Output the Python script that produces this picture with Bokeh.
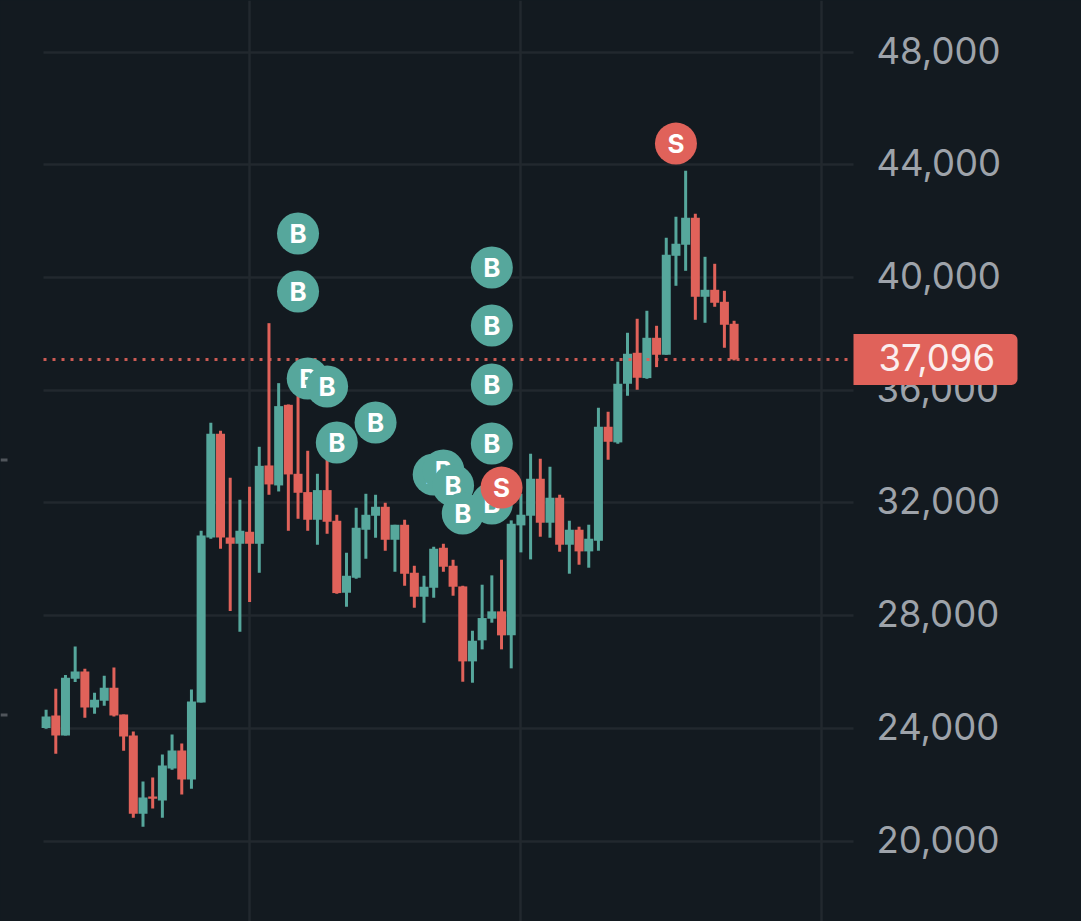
from bokeh.plotting import figure
from bokeh.models import FixedTicker, NumeralTickFormatter, LinearAxis, Label, Range1d, Grid, BoxAnnotation
from bokeh.core.properties import value
from bokeh.embed import file_html
from bokeh.resources import INLINE

opens = [24009,24459,23749,25760,26020,24743,24979,25441,24494,23749,20969,21584,21442,22578,23216,22187,24920,30776,34455,30776,30551,30977,30551,
         33332,32622,35485,33036,32386,31404,32457,31368,28813,29345,31049,31546,31865,30694,31226,29523,28671,28990,30410,29771,29038,26376,27123,27892,
         28152,27300,31204,31547,32860,31299,32186,30518,31050,30281,30660,34706,34150,36232,37332,36433,37864,37261,40775,41165,42123,39320,39568,39142,38361]
closes = [24423,23749,25795,26020,24743,25015,25441,24459,23713,20969,21548,21501,22684,23216,22187,24956,30847,34455,30776,30551,31012,30551,33319,
          32658,35438,33013,32362,31404,32457,31333,28801,29416,31120,31581,31865,30694,31226,29487,28671,29026,30375,29736,29026,26376,27109,27915,28152,
          27300,31263,31583,32860,31299,32186,30518,31050,30281,30731,34706,34173,36232,37297,36445,37864,37261,40810,41200,42123,39320,39568,39107,38326,37096]
highs = [24660,25405,25890,26907,26115,25263,25866,26162,24494,23891,22116,22258,23075,23784,23465,25381,31012,34845,34561,32893,32113,32574,33994,
         38383,36254,35497,35875,33853,33036,33628,31581,30233,31830,32326,32291,32007,31226,31404,29771,29416,30446,30552,29984,29061,27464,29098,29430,
         29986,31382,32328,33748,33570,33286,32293,31370,31157,31228,35380,35238,37013,38042,38539,38823,38290,41413,42159,43791,42265,40739,40491,39532,38468]
lows = [23985,23098,23749,25642,24376,24518,24802,24423,23205,20827,20507,21158,20827,22530,21655,21856,24920,30729,30374,28161,27428,28481,29522,
        32291,32409,31013,31439,31013,30517,30907,28777,28316,29310,30020,30765,30304,29558,29061,28281,27748,28636,29558,28707,25654,25619,26803,27750,
        26803,26129,30246,29997,30802,30766,30270,29489,29808,29702,30305,33535,34102,35806,36019,36409,36823,37261,39710,40242,38503,38397,38965,37510,37060]

marker_index = [26,26,27,29,30,34,46,46,46,46,46,40,41,42,43,47,65]
marker_price = [41566,39507,36419,36135,34147,34857,40359,38300,36206,34111,31981,33011,33153,32620,31626,32549,44761]
marker_side = ["B","B","B","B","B","B","B","B","B","B","B","B","B","B","B","S","S"]

price_ticks = [20000,24000,28000,32000,36000,40000,44000,48000]
time_ticks = [21,49,80]
last_price = 37096
edge_tick_prices = [33525,24473]

BG = "#131a20"
UP = "#56a79c"
DOWN = "#e0625a"
GRID = "#22282e"
LABEL = "#9ea3aa"

W, H = 1081, 921
PX_PER_BAR = 9.69
X0 = 45.6
FRAME_R = 853
PLOT_LEFT = 43
to_idx = lambda px: (px - X0) / PX_PER_BAR
PRICE_PER_PX = 35.5
Y_TOP = 20000 + 840.5 * PRICE_PER_PX
Y_BOT = 20000 - (H - 840.5) * PRICE_PER_PX

p = figure(width=W, height=H, output_backend="svg", toolbar_location=None,
           x_range=Range1d(to_idx(0), to_idx(W)), y_range=Range1d(Y_BOT, Y_TOP),
           x_axis_location=None, y_axis_location=None,
           min_border_left=0, min_border_right=0, min_border_top=0, min_border_bottom=0,
           background_fill_color=BG, border_fill_color=BG, outline_line_color=None)
p.styles = {"position": "fixed", "left": "0", "top": "0", "background-color": BG}
p.center = []

p.extra_y_ranges = {"labels": Range1d(Y_BOT - 2 * PRICE_PER_PX, Y_TOP - 2 * PRICE_PER_PX)}
ax = LinearAxis(y_range_name="labels", ticker=FixedTicker(ticks=price_ticks),
                formatter=NumeralTickFormatter(format="0,0"), fixed_location=to_idx(FRAME_R),
                axis_line_color=None, major_tick_line_color=None, minor_tick_line_color=None,
                major_label_text_color=LABEL, major_label_text_font="Inter",
                major_label_text_font_size="36.5px", major_label_standoff=23)
ax.major_tick_out = 0
ax.major_tick_in = 0
p.add_layout(ax, "right")

yg = Grid(dimension=1, ticker=FixedTicker(ticks=price_ticks), grid_line_color=GRID, grid_line_width=2.5,
          cross_bounds=(to_idx(PLOT_LEFT), to_idx(FRAME_R)))
xg = Grid(dimension=0, ticker=FixedTicker(ticks=time_ticks), grid_line_color=GRID, grid_line_width=2.5)
p.add_layout(yg)
p.add_layout(xg)

idx = list(range(len(opens)))
colors = [UP if c >= o else DOWN for o, c in zip(opens, closes)]
p.segment(idx, highs, idx, lows, line_color=colors, line_width=3)
p.vbar(idx, width=0.93, bottom=[min(o, c) for o, c in zip(opens, closes)],
       top=[max(o, c) for o, c in zip(opens, closes)], fill_color=colors, line_color=None)

p.line([to_idx(PLOT_LEFT), to_idx(FRAME_R)], [last_price, last_price], line_color=DOWN, line_width=3,
       line_dash="3 6", line_alpha=0.9)

for t in edge_tick_prices:
    p.line([to_idx(0), to_idx(7)], [t, t], line_color="#50555b", line_width=3)

for i, pr, s in zip(marker_index, marker_price, marker_side):
    col = UP if s == "B" else DOWN
    p.scatter([i], [pr], size=42, marker="circle", fill_color=col, line_color=None)
    p.text([i], [pr], text=[s], text_color="#ffffff", text_font=value("Inter"),
           text_font_style="bold", text_font_size="26px", text_align="center", text_baseline="middle")

box = BoxAnnotation(left=FRAME_R, right=1017, left_units="screen", right_units="screen",
                    top=last_price + 25.5 * PRICE_PER_PX, bottom=last_price - 25.5 * PRICE_PER_PX,
                    fill_color=DOWN, fill_alpha=1.0, line_color=None, level="annotation",
                    border_radius=dict(top_left=0, top_right=6, bottom_right=6, bottom_left=0))
p.add_layout(box)

tag = Label(x=878, y=last_price, x_units="screen", y_units="data", y_offset=2, text=f"{last_price:,}",
            text_color="#fbeeee", text_font="Inter", text_font_size="36.5px", text_baseline="middle",
            level="overlay")
p.add_layout(tag)

open("out.html", "w").write(file_html(p, INLINE))
